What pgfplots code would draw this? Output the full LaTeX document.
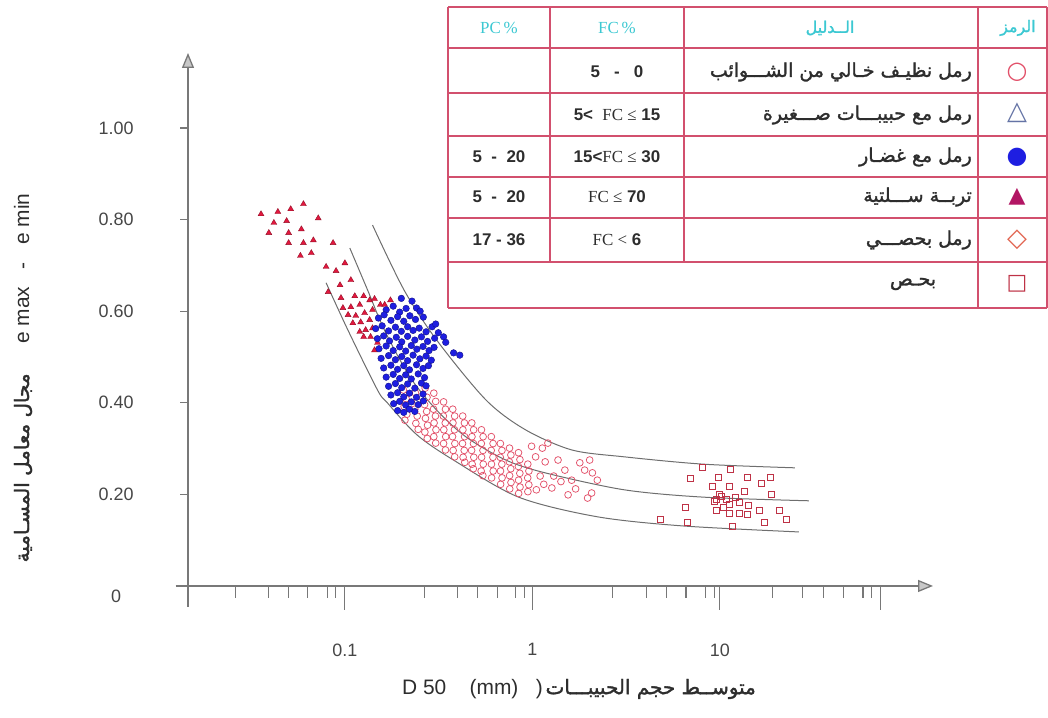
\documentclass[border=0pt]{standalone}
\usepackage{fontspec}
\setmainfont{Liberation Sans}
\newfontfamily\seriffont{Liberation Serif}
\newfontfamily\arabicfont[Script=Arabic,FakeBold=1.6]{DejaVu Sans}
\newfontfamily\symfont{DejaVu Sans}
\usepackage{pgfplots}
\pgfplotsset{compat=1.18}
\usetikzlibrary{arrows.meta}
\TeXXeTstate=1
\definecolor{axisgray}{RGB}{120,120,120}
\definecolor{arrowfill}{RGB}{200,200,200}
\definecolor{ticktext}{RGB}{70,70,70}
\definecolor{curvegray}{RGB}{110,110,110}
\definecolor{tri}{RGB}{226,24,62}
\definecolor{blueD}{RGB}{30,30,225}
\definecolor{circ}{RGB}{226,80,105}
\definecolor{sq}{RGB}{190,50,70}
\definecolor{tabline}{RGB}{210,80,110}
\definecolor{cyanh}{RGB}{60,200,210}
\definecolor{bodytext}{RGB}{45,45,45}
\definecolor{legtri}{RGB}{100,115,165}
\definecolor{legmag}{RGB}{178,22,100}
\definecolor{legdia}{RGB}{225,100,80}
\begin{document}
\begin{tikzpicture}[x=1bp,y=1bp]
\useasboundingbox (0,0) rectangle (1048,718);
\begin{axis}[
  at={(188bp,111bp)}, anchor=south west,
  scale only axis, width=745bp, height=554bp,
  xmode=log, xmin=0.01456, xmax=137, ymin=-0.0459, ymax=1.1638,
  enlargelimits=false, clip=false,
  axis x line=middle, axis y line=left,
  hide obscured x ticks=false, hide obscured y ticks=false,
  axis line style={draw=axisgray, line width=1.3bp},
  x axis line style={-{Triangle[length=15bp,width=12bp,fill=arrowfill]}},
  y axis line style={-{Triangle[length=15bp,width=12bp,fill=arrowfill]}},
  xtick={0.1,1,10,72}, xticklabels={0.1,1,10,{}},
  minor xtick={0.026,0.039,0.05,0.063,0.081,0.089,0.267,0.398,0.507,0.655,0.814,0.908,2.67,4.08,5.2,6.6,8.4,9.4,19,27.6,35.6,45.5,58,64.6},
  xtick align=outside, ytick align=outside,
  major tick length=24bp, minor tick length=12bp,
  ytick style={/pgfplots/major tick length=8bp},
  tick style={draw=axisgray, line width=1.1bp},
  ytick={0,0.2,0.4,0.6,0.8,1.0},
  yticklabels={\raisebox{-17bp}[0pt][0pt]{0},0.20,0.40,0.60,0.80,1.00},
  /pgf/number format/assume math mode=true,
  tick label style={font=\fontsize{18}{20}\selectfont, text=ticktext},
  yticklabel style={anchor=center, xshift=-48bp},
  xticklabel style={yshift=-30bp},
]
% boundary curves
\addplot[smooth, curvegray, line width=1bp] coordinates {(0.0794,0.662) (0.1037,0.559) (0.1492,0.428) (0.1684,0.400) (0.2422,0.330) (0.3793,0.275) (0.844,0.194) (2.226,0.151) (6.387,0.131) (26.37,0.118)};
\addplot[smooth, curvegray, line width=1bp] coordinates {(0.1062,0.738) (0.1322,0.646) (0.1624,0.559) (0.2225,0.456) (0.3086,0.384) (0.444,0.325) (0.7211,0.275) (1.170,0.247) (3.087,0.210) (8.137,0.194) (29.8,0.186)};
\addplot[smooth, curvegray, line width=1bp] coordinates {(0.1404,0.788) (0.2069,0.646) (0.3086,0.537) (0.5658,0.406) (0.9187,0.341) (1.624,0.297) (3.087,0.282) (8.137,0.266) (25.1,0.258)};
% clean sand: open circles
\addplot[only marks, mark=o, mark size=3.4bp, mark options={draw=circ, line width=0.75bp}] coordinates {
(0.205,0.428) (0.212,0.409) (0.207,0.392) (0.214,0.375) (0.209,0.362)
(0.238,0.421) (0.244,0.402) (0.236,0.386) (0.243,0.371) (0.239,0.355) (0.246,0.342)
(0.268,0.432) (0.274,0.412) (0.266,0.396) (0.273,0.381) (0.269,0.366) (0.276,0.351) (0.267,0.336) (0.275,0.322)
(0.298,0.421) (0.305,0.403) (0.297,0.386) (0.304,0.371) (0.299,0.356) (0.306,0.341) (0.298,0.326) (0.305,0.312)
(0.336,0.402) (0.344,0.386) (0.335,0.371) (0.343,0.356) (0.337,0.341) (0.345,0.326) (0.336,0.311) (0.344,0.297)
(0.376,0.386) (0.385,0.371) (0.377,0.356) (0.384,0.341) (0.375,0.326) (0.386,0.311) (0.378,0.296) (0.385,0.282)
(0.425,0.371) (0.434,0.356) (0.426,0.341) (0.435,0.326) (0.424,0.311) (0.433,0.296) (0.427,0.281) (0.436,0.270)
(0.475,0.356) (0.486,0.341) (0.476,0.326) (0.485,0.311) (0.474,0.296) (0.487,0.281) (0.477,0.266) (0.484,0.256)
(0.535,0.341) (0.546,0.326) (0.534,0.311) (0.545,0.296) (0.536,0.281) (0.547,0.266) (0.533,0.251) (0.544,0.241)
(0.604,0.326) (0.617,0.311) (0.603,0.296) (0.616,0.281) (0.605,0.266) (0.618,0.251) (0.606,0.236)
(0.675,0.311) (0.688,0.296) (0.674,0.281) (0.687,0.266) (0.676,0.251) (0.689,0.236) (0.677,0.222)
(0.755,0.301) (0.768,0.286) (0.754,0.271) (0.767,0.256) (0.756,0.241) (0.769,0.226) (0.757,0.212)
(0.843,0.291) (0.858,0.276) (0.842,0.261) (0.857,0.246) (0.844,0.231) (0.859,0.216) (0.845,0.202)
(0.945,0.266) (0.958,0.251) (0.944,0.236) (0.957,0.221) (0.946,0.206)
(1.04,0.282) (1.13,0.301) (1.21,0.312) (1.17,0.271) (1.37,0.275) (1.49,0.253) (1.62,0.231) (1.79,0.269) (1.90,0.253) (2.02,0.275) (2.09,0.247) (2.22,0.231) (1.27,0.214) (1.55,0.199) (1.97,0.192) (2.07,0.203) (1.10,0.240) (1.30,0.240) (1.70,0.212) (1.15,0.222) (1.42,0.228) (0.99,0.305) (1.05,0.21)
};
% silty soil: triangles
\addplot[only marks, mark=triangle*, mark size=3.4bp, mark options={fill=tri, draw=tri!65!black, line width=0.4bp}] coordinates {
(0.0357,0.812) (0.0439,0.817) (0.0514,0.823) (0.0601,0.834) (0.0418,0.793) (0.0489,0.797) (0.0721,0.803) (0.0393,0.771) (0.0501,0.771) (0.0586,0.779) (0.0501,0.749) (0.0601,0.749) (0.0679,0.755) (0.0865,0.749) (0.0579,0.721) (0.0662,0.727) (0.0794,0.697) (0.0897,0.688) (0.100,0.705) (0.1076,0.668) (0.0942,0.657) (0.0814,0.642) (0.0953,0.629) (0.1129,0.633) (0.1259,0.633) (0.0976,0.607) (0.1076,0.609) (0.120,0.614) (0.1355,0.624) (0.1439,0.627) (0.1546,0.614) (0.104,0.592) (0.1143,0.590) (0.1274,0.596) (0.1404,0.603) (0.1102,0.574) (0.1214,0.576) (0.1355,0.581) (0.120,0.555) (0.129,0.559) (0.1404,0.563) (0.1259,0.544) (0.1371,0.544) (0.1492,0.531) (0.1439,0.515) (0.163,0.614) (0.175,0.624)
};
% sand with clay: blue dots
\addplot[only marks, mark=*, mark size=3.3bp, mark options={fill=blueD, draw=blueD!60!black, line width=0.4bp}] coordinates {
(0.200,0.628) (0.228,0.622) (0.241,0.607)
(0.166,0.603) (0.181,0.611) (0.196,0.598) (0.212,0.606) (0.252,0.600)
(0.151,0.585) (0.162,0.592) (0.176,0.580) (0.191,0.588) (0.206,0.578) (0.222,0.590) (0.238,0.582) (0.262,0.587)
(0.146,0.562) (0.158,0.568) (0.171,0.557) (0.186,0.565) (0.200,0.556) (0.216,0.566) (0.231,0.558) (0.249,0.563) (0.271,0.555) (0.292,0.566)
(0.149,0.540) (0.161,0.546) (0.173,0.535) (0.188,0.543) (0.201,0.533) (0.216,0.545) (0.236,0.537) (0.256,0.544) (0.276,0.534) (0.301,0.541)
(0.152,0.518) (0.166,0.524) (0.181,0.514) (0.196,0.522) (0.211,0.513) (0.226,0.525) (0.242,0.517) (0.261,0.523) (0.281,0.514) (0.299,0.521)
(0.156,0.497) (0.171,0.503) (0.186,0.494) (0.201,0.501) (0.216,0.492) (0.231,0.504) (0.251,0.496) (0.271,0.502) (0.289,0.493)
(0.161,0.476) (0.176,0.482) (0.191,0.473) (0.206,0.481) (0.221,0.472) (0.241,0.483) (0.261,0.475) (0.279,0.481)
(0.166,0.456) (0.181,0.462) (0.196,0.453) (0.211,0.461) (0.226,0.452) (0.246,0.463) (0.266,0.455)
(0.171,0.436) (0.186,0.442) (0.201,0.433) (0.216,0.441) (0.236,0.432) (0.256,0.443) (0.271,0.437)
(0.176,0.417) (0.191,0.422) (0.206,0.413) (0.221,0.421) (0.241,0.412) (0.261,0.419)
(0.182,0.398) (0.196,0.403) (0.211,0.395) (0.226,0.402) (0.246,0.396) (0.262,0.404)
(0.191,0.383) (0.206,0.379) (0.221,0.386) (0.236,0.381)
(0.336,0.544) (0.345,0.532) (0.38,0.509) (0.41,0.504) (0.305,0.572) (0.315,0.553)
};
% gravel: open squares
\addplot[only marks, mark=square, mark size=3bp, mark options={draw=sq, line width=0.8bp}] coordinates {
(8.04,0.260) (11.4,0.255) (6.95,0.234) (9.76,0.236) (14.0,0.236) (18.6,0.238) (9.08,0.218) (11.3,0.218) (16.6,0.225) (13.5,0.207) (10.0,0.201) (9.53,0.188) (10.8,0.190) (12.1,0.194) (12.7,0.183) (18.8,0.199) (6.54,0.172) (9.53,0.166) (10.4,0.172) (11.3,0.179) (14.2,0.177) (11.3,0.159) (12.7,0.159) (14.0,0.157) (16.2,0.164) (20.7,0.164) (4.83,0.146) (6.70,0.138) (11.7,0.129) (17.3,0.138) (22.5,0.146) (10.2,0.195) (9.3,0.185)
};
\draw[axisgray, line width=1.3bp] (axis cs:0.0125,0) -- (axis cs:0.01456,0);
\end{axis}
% axis titles
\node[rotate=90, text=bodytext, inner sep=0] at (23,340) {{\arabicfont\fontsize{20}{22}\selectfont\beginR مجال معامل المسـامية\endR}\qquad\quad{\fontsize{21}{23}\selectfont e max\ \ \ -\ \ \ e min}};
\node[text=bodytext, inner sep=0] at (579,29) {{\fontsize{21}{23}\selectfont D 50\ \ \ \ (mm)\ \ \ )}\ {\arabicfont\fontsize{20}{22}\selectfont\beginR متوســط حجم الحبيبـــات\endR}};
% legend table
\begin{scope}[tabline, line width=1.2bp]
\draw (448,711) -- (1047,711);
\foreach \yy in {670,625,582,541,500,456,410} {\draw (448,\yy) -- (1047,\yy);}
\draw (448,711) -- (448,410);
\draw (978,711) -- (978,410);
\draw (550,711) -- (550,456);
\draw (684,711) -- (684,456);
\draw (1047,711) -- (1047,410);
\end{scope}
\begin{scope}[every node/.style={inner sep=0}]
\node[text=cyanh, font=\seriffont\fontsize{17}{19}\selectfont] at (499,690) {PC\,\%};
\node[text=cyanh, font=\seriffont\fontsize{17}{19}\selectfont] at (617,690) {FC\,\%};
\node[text=cyanh] at (830,690) {\arabicfont\fontsize{16}{18}\selectfont\beginR الــدليل\endR};
\node[text=cyanh, anchor=west] at (1000,690) {\arabicfont\fontsize{16}{18}\selectfont\beginR الرمز\endR};
% Arabic descriptions
\foreach \yy/\txt in {646/{رمل نظيـف خـالي من الشـــوائب}, 603/{رمل مع حبيبـــات صـــغيرة}, 561/{رمل مع غضـار}, 521/{تربــة ســـلتية}, 478/{رمل بحصـــي}} {
  \node[text=bodytext, anchor=east] at (972,\yy) {\arabicfont\fontsize{19}{21}\selectfont\beginR\txt\endR};
}
\node[text=bodytext] at (913,434) {\arabicfont\fontsize{19}{21}\selectfont\beginR بحـص\endR};
% FC column
\node[text=bodytext, font=\bfseries\fontsize{17}{19}\selectfont] at (617,646) {5\ \ \ -\ \ \ 0};
\node[text=bodytext, font=\bfseries\fontsize{17}{19}\selectfont] at (617,603) {5<\ \ {\mdseries\seriffont FC ≤} 15};
\node[text=bodytext, font=\bfseries\fontsize{17}{19}\selectfont] at (617,561) {15<{\mdseries\seriffont FC ≤} 30};
\node[text=bodytext, font=\bfseries\fontsize{17}{19}\selectfont] at (617,521) {{\mdseries\seriffont FC ≤} 70};
\node[text=bodytext, font=\bfseries\fontsize{17}{19}\selectfont] at (617,478) {{\mdseries\seriffont FC <} 6};
% PC column
\node[text=bodytext, font=\bfseries\fontsize{17}{19}\selectfont] at (499,561) {5\ \ -\ \ 20};
\node[text=bodytext, font=\bfseries\fontsize{17}{19}\selectfont] at (499,521) {5\ \ -\ \ 20};
\node[text=bodytext, font=\bfseries\fontsize{17}{19}\selectfont] at (499,478) {17 - 36};
% symbols
\node[text=circ] at (1017,646) {\symfont\fontsize{24}{24}\selectfont ○};
\node[text=legtri] at (1017,605) {\symfont\fontsize{26}{26}\selectfont △};
\node[text=blueD] at (1017,561) {\symfont\fontsize{24}{24}\selectfont ●};
\node[text=legmag] at (1017,521) {\symfont\fontsize{22}{22}\selectfont ▲};
\node[text=legdia] at (1017,478) {\symfont\fontsize{26}{26}\selectfont ◇};
\node[text=sq] at (1017,434) {\symfont\fontsize{22}{22}\selectfont □};
\end{scope}
\end{tikzpicture}
\end{document}
